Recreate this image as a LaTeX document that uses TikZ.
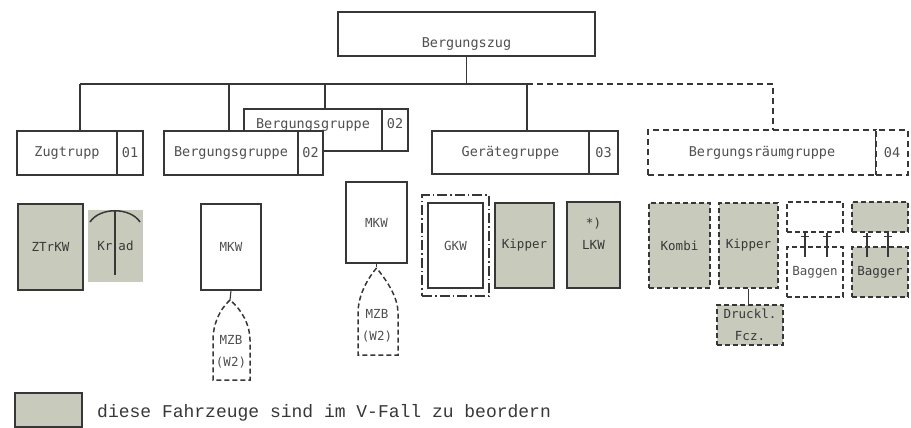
\documentclass[tikz,border=0pt]{standalone}
\usepackage{fontspec}
\newfontfamily\boxfont{DejaVu Sans Mono}
\newfontfamily\typefont{Liberation Mono}
\definecolor{vfill}{RGB}{200,203,188}
\definecolor{ink}{RGB}{55,55,55}
\definecolor{lbl}{RGB}{80,80,80}
\tikzset{
  unit/.style={draw=ink, line width=1.1pt, fill=white, minimum height=44pt, inner sep=0pt, font=\boxfont\fontsize{13.5}{15}\selectfont, text=lbl},
  unitdash/.style={unit, dash pattern=on 6pt off 4pt},
  veh/.style={draw=ink, line width=1.1pt, inner sep=0pt, align=center, font=\boxfont\fontsize{12.5}{22}\selectfont, text=lbl},
  vehfill/.style={veh, fill=vfill, text=ink},
  vehdash/.style={veh, fill=vfill, text=ink, line width=1.8pt, dash pattern=on 5pt off 3pt},
  orgline/.style={draw=ink, line width=1.1pt},
}
\begin{document}
\begin{tikzpicture}[x=1pt, y=-1pt]
\useasboundingbox (0,0) rectangle (911,428);
% top
\node[unit, minimum width=257pt, text height=30pt, text depth=3pt] (bz) at (466.5,34) {Bergungszug};
% bus
\coordinate (bus) at (0,84);
\coordinate (b1) at (80,84);
\coordinate (b2) at (229,84);
\coordinate (b3) at (325,84);
\coordinate (b4) at (527,84);
\coordinate (b5) at (773,84);
\draw[orgline] (bz.south) -- (bz.south |- bus);
\draw[orgline] (b1) -- (b4);
\draw[orgline, dash pattern=on 6pt off 4pt] (b4) -- (b5) -- (b5 |- 0,130);
\draw[orgline] (b1) -- (b1 |- 0,131);
\draw[orgline] (b2) -- (b2 |- 0,131);
\draw[orgline] (b3) -- (b3 |- 0,109);
\draw[orgline] (b4) -- (b4 |- 0,131);
% groups
\node[unit, minimum width=138pt, minimum height=42pt, text height=9pt, text depth=12pt] (bgB) at (313,130) {Bergungsgruppe};
\node[unit, minimum width=26pt, minimum height=42pt, text height=9pt, text depth=12pt] (bgBnr) at (395,130) {02};
\node[unit, minimum width=100pt] (zt) at (67,153) {Zugtrupp};
\node[unit, minimum width=26pt] (ztnr) at (130,153) {01};
\node[unit, minimum width=134pt] (bgA) at (231,153) {Bergungsgruppe};
\node[unit, minimum width=25pt] (bgAnr) at (310.5,153) {02};
\node[unit, minimum width=157pt, minimum height=43pt] (gg) at (510.5,152.5) {Gerätegruppe};
\node[unit, minimum width=29pt, minimum height=43pt] (ggnr) at (603.5,152.5) {03};
\node[unitdash, minimum width=228pt, minimum height=45pt] (br) at (762,152.5) {Bergungsräumgruppe};
\node[unitdash, minimum width=32pt, minimum height=45pt] (brnr) at (892,152.5) {04};
% Zugtrupp
\node[vehfill, minimum width=65pt, minimum height=86pt] (ztrkw) at (50.5,247) {ZTrKW};
\node[vehfill, draw=none, minimum width=55pt, minimum height=72pt] (krad) at (115.5,246) {Kr\hspace{6pt}ad};
\draw[orgline, line width=1.5pt] (90,222) .. controls (100,207) and (130,207) .. (140,222);
\draw[orgline, line width=1.5pt] (115,210) -- (115,275);
% Bergungsgruppen
\node[veh, minimum width=60pt, minimum height=86pt] (mkwA) at (231,247) {MKW};
\node[veh, draw=none] (mzbA) at (231,352) {MZB\\(W2)};
\coordinate (mzbAtop) at (230,300);
\draw[orgline] (mkwA.south) -- (mzbAtop);
\draw[orgline, line width=1.5pt, dash pattern=on 5pt off 3pt] (mzbAtop) .. controls (219,310) and (213,325) .. (213,340) -- (213,380) -- (250,380) -- (250,340) .. controls (250,325) and (242,310) .. cycle;
\node[veh, minimum width=61pt, minimum height=81pt] (mkwB) at (376.5,222.5) {MKW};
\node[veh, draw=none] (mzbB) at (377,326) {MZB\\(W2)};
\coordinate (mzbBtop) at (376.5,268);
\draw[orgline, dash pattern=on 3pt off 2pt] (mkwB.south) -- (mzbBtop);
\draw[orgline, line width=1.5pt, dash pattern=on 5pt off 3pt] (mzbBtop) .. controls (365,282) and (358,298) .. (358,313) -- (358,355) -- (398,355) -- (398,313) .. controls (398,298) and (388,282) .. cycle;
% Geraetegruppe
\node[veh, minimum width=55pt, minimum height=85pt] (gkw) at (455.5,245.5) {GKW};
\node[draw=ink, line width=1.1pt, dash pattern=on 10pt off 3pt on 1.5pt off 3pt, minimum width=67pt, minimum height=101pt] (gkwrahmen) at (455.5,245.5) {};
\node[vehfill, minimum width=59pt, minimum height=85pt] (kipA) at (524.5,245.5) {Kipper};
\node[vehfill, minimum width=53pt, minimum height=86pt] (lkw) at (593.5,245) {*)\\LKW\\~};
% Bergungsraeumgruppe
\node[vehdash, minimum width=61pt, minimum height=85pt] (kombi) at (679.5,245.5) {Kombi};
\node[vehdash, minimum width=59pt, minimum height=85pt] (kipB) at (748.5,245.5) {Kipper};
\node[vehdash, minimum width=66pt, minimum height=40pt] (druck) at (750,325) {Druckl.\\Fcz.};
\draw[orgline] (kipB.south) -- (kipB.south |- druck.north);
\node[vehdash, fill=none, minimum width=56pt, minimum height=30pt] (bagA) at (815,217) {};
\node[vehdash, fill=none, text=lbl, minimum width=56pt, minimum height=50pt] (bagB) at (815,272) {Baggen};
\foreach \dx in {-10,12} {
  \draw[orgline] ([xshift=\dx pt]bagA.south) -- ([xshift=\dx pt, yshift=-11pt]bagB.north);
  \draw[orgline] ([xshift=\dx pt-4pt, yshift=-4pt]bagA.south) -- ++(8,0);
}
\node[vehdash, minimum width=56pt, minimum height=30pt] (bgrA) at (880,217) {};
\node[vehdash, minimum width=56pt, minimum height=50pt] (bgrB) at (880,272) {Bagger};
\foreach \dx in {-13,8} {
  \draw[orgline] ([xshift=\dx pt]bgrA.south) -- ([xshift=\dx pt, yshift=-11pt]bgrB.north);
  \draw[orgline] ([xshift=\dx pt-4pt, yshift=-4pt]bgrA.south) -- ++(8,0);
}
% legend
\node[vehfill, minimum width=67pt, minimum height=34pt] (leg) at (48.5,410) {};
\node[anchor=base west, inner sep=0pt, font=\typefont\fontsize{18}{20}\selectfont, text=ink] (legtxt) at (97,417) {diese Fahrzeuge sind im V-Fall zu beordern};
\end{tikzpicture}
\end{document}
